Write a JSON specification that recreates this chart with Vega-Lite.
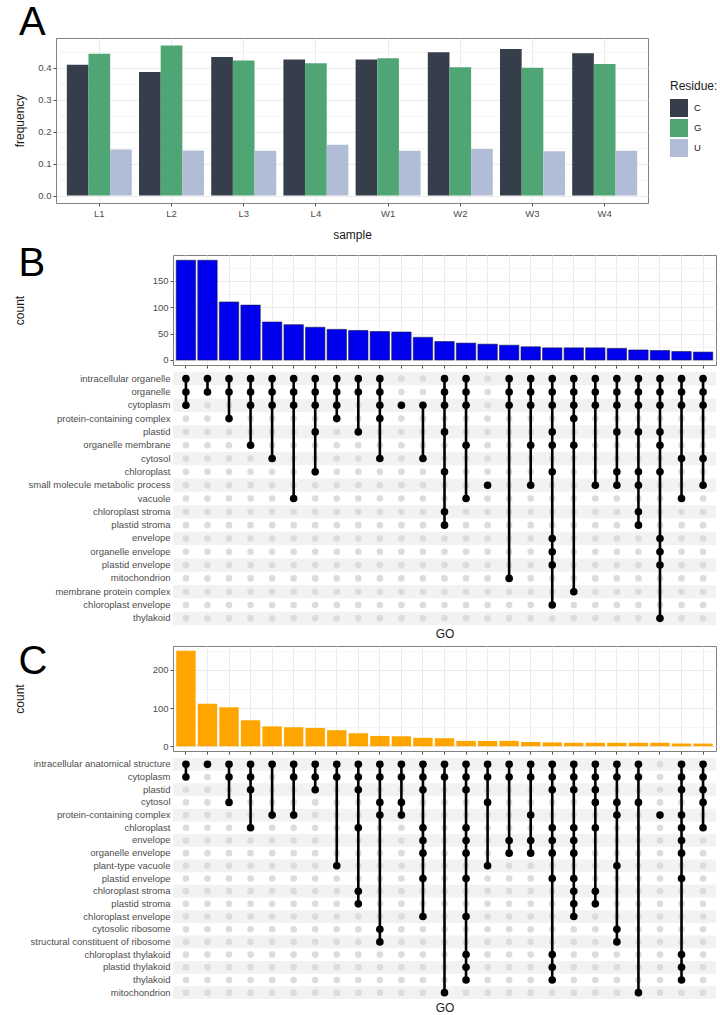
{
  "$schema": "https://vega.github.io/schema/vega-lite/v6.json",
  "padding": {"left": 12, "top": 2, "right": 2, "bottom": 0},
  "background": "white",
  "config": {
    "font": "Liberation Sans",
    "view": {"stroke": "#808080", "strokeWidth": 1},
    "axis": {"labelFontSize": 9.5, "labelColor": "#4D4D4D", "titleFontSize": 12, "titleFontWeight": "normal", "titleColor": "#1a1a1a", "tickColor": "#4D4D4D", "tickSize": 3, "domain": false, "gridColor": "#EBEBEB", "labelPadding": 2},
    "title": {"fontWeight": "normal", "fontSize": 40, "anchor": "start", "color": "#000000"}
  },
  "datasets": {
    "A": [
      {"sample": "L1", "Residue": "C", "frequency": 0.410}, {"sample": "L1", "Residue": "G", "frequency": 0.444}, {"sample": "L1", "Residue": "U", "frequency": 0.144},
      {"sample": "L2", "Residue": "C", "frequency": 0.387}, {"sample": "L2", "Residue": "G", "frequency": 0.470}, {"sample": "L2", "Residue": "U", "frequency": 0.141},
      {"sample": "L3", "Residue": "C", "frequency": 0.434}, {"sample": "L3", "Residue": "G", "frequency": 0.423}, {"sample": "L3", "Residue": "U", "frequency": 0.140},
      {"sample": "L4", "Residue": "C", "frequency": 0.426}, {"sample": "L4", "Residue": "G", "frequency": 0.414}, {"sample": "L4", "Residue": "U", "frequency": 0.159},
      {"sample": "W1", "Residue": "C", "frequency": 0.426}, {"sample": "W1", "Residue": "G", "frequency": 0.430}, {"sample": "W1", "Residue": "U", "frequency": 0.140},
      {"sample": "W2", "Residue": "C", "frequency": 0.449}, {"sample": "W2", "Residue": "G", "frequency": 0.402}, {"sample": "W2", "Residue": "U", "frequency": 0.146},
      {"sample": "W3", "Residue": "C", "frequency": 0.459}, {"sample": "W3", "Residue": "G", "frequency": 0.400}, {"sample": "W3", "Residue": "U", "frequency": 0.139},
      {"sample": "W4", "Residue": "C", "frequency": 0.446}, {"sample": "W4", "Residue": "G", "frequency": 0.412}, {"sample": "W4", "Residue": "U", "frequency": 0.140}
    ],
    "B_sets": [
      {"set": 1, "count": 189, "terms": ["intracellular organelle", "organelle", "cytoplasm"]},
      {"set": 2, "count": 189, "terms": ["intracellular organelle", "organelle"]},
      {"set": 3, "count": 110, "terms": ["intracellular organelle", "organelle", "protein-containing complex"]},
      {"set": 4, "count": 104, "terms": ["intracellular organelle", "organelle", "cytoplasm", "organelle membrane"]},
      {"set": 5, "count": 72, "terms": ["intracellular organelle", "organelle", "cytoplasm", "cytosol"]},
      {"set": 6, "count": 67, "terms": ["intracellular organelle", "organelle", "cytoplasm", "vacuole"]},
      {"set": 7, "count": 62, "terms": ["intracellular organelle", "organelle", "cytoplasm", "plastid", "chloroplast"]},
      {"set": 8, "count": 58, "terms": ["intracellular organelle", "organelle", "cytoplasm", "protein-containing complex"]},
      {"set": 9, "count": 56, "terms": ["intracellular organelle", "organelle", "plastid"]},
      {"set": 10, "count": 54, "terms": ["intracellular organelle", "organelle", "cytoplasm", "protein-containing complex", "cytosol"]},
      {"set": 11, "count": 53, "terms": ["cytoplasm"]},
      {"set": 12, "count": 43, "terms": ["cytoplasm", "cytosol"]},
      {"set": 13, "count": 35, "terms": ["intracellular organelle", "organelle", "cytoplasm", "plastid", "chloroplast", "chloroplast stroma", "plastid stroma"]},
      {"set": 14, "count": 32, "terms": ["intracellular organelle", "organelle", "cytoplasm", "organelle membrane", "vacuole"]},
      {"set": 15, "count": 30, "terms": ["small molecule metabolic process"]},
      {"set": 16, "count": 28, "terms": ["intracellular organelle", "organelle", "cytoplasm", "mitochondrion"]},
      {"set": 17, "count": 25, "terms": ["intracellular organelle", "organelle", "cytoplasm", "organelle membrane", "small molecule metabolic process"]},
      {"set": 18, "count": 23, "terms": ["intracellular organelle", "organelle", "cytoplasm", "plastid", "organelle membrane", "chloroplast", "envelope", "organelle envelope", "plastid envelope", "chloroplast envelope"]},
      {"set": 19, "count": 23, "terms": ["intracellular organelle", "organelle", "cytoplasm", "protein-containing complex", "organelle membrane", "membrane protein complex"]},
      {"set": 20, "count": 23, "terms": ["intracellular organelle", "organelle", "cytoplasm", "small molecule metabolic process"]},
      {"set": 21, "count": 22, "terms": ["intracellular organelle", "organelle", "cytoplasm", "plastid", "chloroplast", "small molecule metabolic process"]},
      {"set": 22, "count": 19, "terms": ["intracellular organelle", "organelle", "cytoplasm", "plastid", "chloroplast", "small molecule metabolic process", "chloroplast stroma", "plastid stroma"]},
      {"set": 23, "count": 18, "terms": ["intracellular organelle", "organelle", "cytoplasm", "plastid", "organelle membrane", "chloroplast", "envelope", "organelle envelope", "plastid envelope", "thylakoid"]},
      {"set": 24, "count": 16, "terms": ["intracellular organelle", "organelle", "cytoplasm", "cytosol", "vacuole"]},
      {"set": 25, "count": 15, "terms": ["intracellular organelle", "organelle", "cytoplasm", "cytosol", "small molecule metabolic process"]}
    ],
    "B_terms": [
      {"term": "intracellular organelle", "sets": [1,2,3,4,5,6,7,8,9,10,11,12,13,14,15,16,17,18,19,20,21,22,23,24,25]},
      {"term": "organelle", "sets": [1,2,3,4,5,6,7,8,9,10,11,12,13,14,15,16,17,18,19,20,21,22,23,24,25]},
      {"term": "cytoplasm", "sets": [1,2,3,4,5,6,7,8,9,10,11,12,13,14,15,16,17,18,19,20,21,22,23,24,25]},
      {"term": "protein-containing complex", "sets": [1,2,3,4,5,6,7,8,9,10,11,12,13,14,15,16,17,18,19,20,21,22,23,24,25]},
      {"term": "plastid", "sets": [1,2,3,4,5,6,7,8,9,10,11,12,13,14,15,16,17,18,19,20,21,22,23,24,25]},
      {"term": "organelle membrane", "sets": [1,2,3,4,5,6,7,8,9,10,11,12,13,14,15,16,17,18,19,20,21,22,23,24,25]},
      {"term": "cytosol", "sets": [1,2,3,4,5,6,7,8,9,10,11,12,13,14,15,16,17,18,19,20,21,22,23,24,25]},
      {"term": "chloroplast", "sets": [1,2,3,4,5,6,7,8,9,10,11,12,13,14,15,16,17,18,19,20,21,22,23,24,25]},
      {"term": "small molecule metabolic process", "sets": [1,2,3,4,5,6,7,8,9,10,11,12,13,14,15,16,17,18,19,20,21,22,23,24,25]},
      {"term": "vacuole", "sets": [1,2,3,4,5,6,7,8,9,10,11,12,13,14,15,16,17,18,19,20,21,22,23,24,25]},
      {"term": "chloroplast stroma", "sets": [1,2,3,4,5,6,7,8,9,10,11,12,13,14,15,16,17,18,19,20,21,22,23,24,25]},
      {"term": "plastid stroma", "sets": [1,2,3,4,5,6,7,8,9,10,11,12,13,14,15,16,17,18,19,20,21,22,23,24,25]},
      {"term": "envelope", "sets": [1,2,3,4,5,6,7,8,9,10,11,12,13,14,15,16,17,18,19,20,21,22,23,24,25]},
      {"term": "organelle envelope", "sets": [1,2,3,4,5,6,7,8,9,10,11,12,13,14,15,16,17,18,19,20,21,22,23,24,25]},
      {"term": "plastid envelope", "sets": [1,2,3,4,5,6,7,8,9,10,11,12,13,14,15,16,17,18,19,20,21,22,23,24,25]},
      {"term": "mitochondrion", "sets": [1,2,3,4,5,6,7,8,9,10,11,12,13,14,15,16,17,18,19,20,21,22,23,24,25]},
      {"term": "membrane protein complex", "sets": [1,2,3,4,5,6,7,8,9,10,11,12,13,14,15,16,17,18,19,20,21,22,23,24,25]},
      {"term": "chloroplast envelope", "sets": [1,2,3,4,5,6,7,8,9,10,11,12,13,14,15,16,17,18,19,20,21,22,23,24,25]},
      {"term": "thylakoid", "sets": [1,2,3,4,5,6,7,8,9,10,11,12,13,14,15,16,17,18,19,20,21,22,23,24,25]}
    ],
    "C_sets": [
      {"set": 1, "count": 250, "terms": ["intracellular anatomical structure", "cytoplasm"]},
      {"set": 2, "count": 111, "terms": ["intracellular anatomical structure"]},
      {"set": 3, "count": 102, "terms": ["intracellular anatomical structure", "cytoplasm", "cytosol"]},
      {"set": 4, "count": 68, "terms": ["intracellular anatomical structure", "cytoplasm", "plastid", "chloroplast"]},
      {"set": 5, "count": 52, "terms": ["intracellular anatomical structure", "protein-containing complex"]},
      {"set": 6, "count": 50, "terms": ["intracellular anatomical structure", "cytoplasm", "protein-containing complex"]},
      {"set": 7, "count": 48, "terms": ["intracellular anatomical structure", "cytoplasm", "plastid"]},
      {"set": 8, "count": 42, "terms": ["intracellular anatomical structure", "cytoplasm", "plant-type vacuole"]},
      {"set": 9, "count": 34, "terms": ["intracellular anatomical structure", "cytoplasm", "plastid", "chloroplast", "chloroplast stroma", "plastid stroma"]},
      {"set": 10, "count": 27, "terms": ["intracellular anatomical structure", "cytoplasm", "cytosol", "protein-containing complex", "cytosolic ribosome", "structural constituent of ribosome"]},
      {"set": 11, "count": 26, "terms": ["intracellular anatomical structure", "cytoplasm", "cytosol", "protein-containing complex"]},
      {"set": 12, "count": 22, "terms": ["intracellular anatomical structure", "cytoplasm", "plastid", "chloroplast", "envelope", "organelle envelope", "plastid envelope", "chloroplast envelope"]},
      {"set": 13, "count": 21, "terms": ["intracellular anatomical structure", "cytoplasm", "mitochondrion"]},
      {"set": 14, "count": 14, "terms": ["intracellular anatomical structure", "cytoplasm", "plastid", "chloroplast", "envelope", "organelle envelope", "plastid envelope", "chloroplast envelope", "chloroplast thylakoid", "plastid thylakoid", "thylakoid"]},
      {"set": 15, "count": 14, "terms": ["intracellular anatomical structure", "cytoplasm", "cytosol", "plant-type vacuole"]},
      {"set": 16, "count": 14, "terms": ["intracellular anatomical structure", "cytoplasm", "envelope", "organelle envelope"]},
      {"set": 17, "count": 11, "terms": ["intracellular anatomical structure", "cytoplasm", "protein-containing complex", "envelope", "organelle envelope"]},
      {"set": 18, "count": 10, "terms": ["intracellular anatomical structure", "cytoplasm", "plastid", "chloroplast", "envelope", "organelle envelope", "plastid envelope", "chloroplast thylakoid", "plastid thylakoid", "thylakoid"]},
      {"set": 19, "count": 9, "terms": ["intracellular anatomical structure", "cytoplasm", "plastid", "chloroplast", "envelope", "organelle envelope", "plastid envelope", "chloroplast stroma", "plastid stroma", "chloroplast envelope"]},
      {"set": 20, "count": 9, "terms": ["intracellular anatomical structure", "cytoplasm", "plastid", "cytosol", "chloroplast", "chloroplast stroma", "plastid stroma"]},
      {"set": 21, "count": 9, "terms": ["intracellular anatomical structure", "cytoplasm", "cytosol", "protein-containing complex", "plant-type vacuole", "cytosolic ribosome", "structural constituent of ribosome"]},
      {"set": 22, "count": 9, "terms": ["intracellular anatomical structure", "cytoplasm", "cytosol", "mitochondrion"]},
      {"set": 23, "count": 9, "terms": ["protein-containing complex"]},
      {"set": 24, "count": 7, "terms": ["intracellular anatomical structure", "cytoplasm", "plastid", "protein-containing complex", "chloroplast", "envelope", "organelle envelope", "plastid envelope", "chloroplast thylakoid", "plastid thylakoid", "thylakoid"]},
      {"set": 25, "count": 7, "terms": ["intracellular anatomical structure", "cytoplasm", "plastid", "cytosol", "chloroplast"]}
    ],
    "C_terms": [
      {"term": "intracellular anatomical structure", "sets": [1,2,3,4,5,6,7,8,9,10,11,12,13,14,15,16,17,18,19,20,21,22,23,24,25]},
      {"term": "cytoplasm", "sets": [1,2,3,4,5,6,7,8,9,10,11,12,13,14,15,16,17,18,19,20,21,22,23,24,25]},
      {"term": "plastid", "sets": [1,2,3,4,5,6,7,8,9,10,11,12,13,14,15,16,17,18,19,20,21,22,23,24,25]},
      {"term": "cytosol", "sets": [1,2,3,4,5,6,7,8,9,10,11,12,13,14,15,16,17,18,19,20,21,22,23,24,25]},
      {"term": "protein-containing complex", "sets": [1,2,3,4,5,6,7,8,9,10,11,12,13,14,15,16,17,18,19,20,21,22,23,24,25]},
      {"term": "chloroplast", "sets": [1,2,3,4,5,6,7,8,9,10,11,12,13,14,15,16,17,18,19,20,21,22,23,24,25]},
      {"term": "envelope", "sets": [1,2,3,4,5,6,7,8,9,10,11,12,13,14,15,16,17,18,19,20,21,22,23,24,25]},
      {"term": "organelle envelope", "sets": [1,2,3,4,5,6,7,8,9,10,11,12,13,14,15,16,17,18,19,20,21,22,23,24,25]},
      {"term": "plant-type vacuole", "sets": [1,2,3,4,5,6,7,8,9,10,11,12,13,14,15,16,17,18,19,20,21,22,23,24,25]},
      {"term": "plastid envelope", "sets": [1,2,3,4,5,6,7,8,9,10,11,12,13,14,15,16,17,18,19,20,21,22,23,24,25]},
      {"term": "chloroplast stroma", "sets": [1,2,3,4,5,6,7,8,9,10,11,12,13,14,15,16,17,18,19,20,21,22,23,24,25]},
      {"term": "plastid stroma", "sets": [1,2,3,4,5,6,7,8,9,10,11,12,13,14,15,16,17,18,19,20,21,22,23,24,25]},
      {"term": "chloroplast envelope", "sets": [1,2,3,4,5,6,7,8,9,10,11,12,13,14,15,16,17,18,19,20,21,22,23,24,25]},
      {"term": "cytosolic ribosome", "sets": [1,2,3,4,5,6,7,8,9,10,11,12,13,14,15,16,17,18,19,20,21,22,23,24,25]},
      {"term": "structural constituent of ribosome", "sets": [1,2,3,4,5,6,7,8,9,10,11,12,13,14,15,16,17,18,19,20,21,22,23,24,25]},
      {"term": "chloroplast thylakoid", "sets": [1,2,3,4,5,6,7,8,9,10,11,12,13,14,15,16,17,18,19,20,21,22,23,24,25]},
      {"term": "plastid thylakoid", "sets": [1,2,3,4,5,6,7,8,9,10,11,12,13,14,15,16,17,18,19,20,21,22,23,24,25]},
      {"term": "thylakoid", "sets": [1,2,3,4,5,6,7,8,9,10,11,12,13,14,15,16,17,18,19,20,21,22,23,24,25]},
      {"term": "mitochondrion", "sets": [1,2,3,4,5,6,7,8,9,10,11,12,13,14,15,16,17,18,19,20,21,22,23,24,25]}
    ]
  },
  "spacing": 2,
  "vconcat": [
    {
      "title": {"text": "A", "frame": "bounds", "dx": 6, "offset": -5},
      "width": 592,
      "height": 165,
      "data": {"name": "A"},
      "mark": {"type": "bar"},
      "encoding": {
        "x": {"field": "sample", "type": "nominal", "scale": {"paddingInner": 0.1, "paddingOuter": 0.15},
              "axis": {"title": "sample", "labelAngle": 0, "grid": true, "bandPosition": 0.5, "titlePadding": 12}},
        "xOffset": {"field": "Residue", "type": "nominal"},
        "y": {"field": "frequency", "type": "quantitative", "scale": {"domain": [-0.0235, 0.4935], "nice": false},
              "axis": {"title": "frequency", "titleX": -30,
                       "values": [0, 0.05, 0.1, 0.15, 0.2, 0.25, 0.3, 0.35, 0.4, 0.45],
                       "labelExpr": "abs(datum.value*10 - round(datum.value*10)) < 0.01 ? format(datum.value, '.1f') : ''",
                       "tickOpacity": {"condition": {"test": "abs(datum.value*10 - round(datum.value*10)) < 0.01", "value": 1}, "value": 0},
                       "gridWidth": {"condition": {"test": "abs(datum.value*10 - round(datum.value*10)) < 0.01", "value": 1}, "value": 0.5}}},
        "color": {"field": "Residue", "type": "nominal",
                  "scale": {"domain": ["C", "G", "U"], "range": ["#363D4B", "#4FA573", "#B1BDD7"]},
                  "legend": {"title": "Residue:", "orient": "none", "legendX": 614, "legendY": 43, "symbolType": "square", "symbolSize": 324, "symbolStrokeWidth": 0, "symbolOpacity": 1, "titleFontSize": 12, "titleFontWeight": "normal", "titleColor": "#1a1a1a", "labelFontSize": 9.5, "labelColor": "#1a1a1a", "rowPadding": 2, "titlePadding": 6, "labelOffset": 6}}
      }
    },
    {
      "title": {"text": "B", "frame": "bounds", "dx": 6, "offset": -29},
      "bounds": "flush",
      "spacing": 0,
      "hconcat": [
        {"width": 117, "height": 1, "data": {"values": []}, "mark": "rect", "encoding": {}, "view": {"stroke": null}},
        {
          "bounds": "full",
          "spacing": 3,
          "resolve": {"scale": {"x": "independent", "y": "independent"}},
          "vconcat": [
            {
              "width": 543,
              "height": 110,
              "data": {"name": "B_sets"},
              "mark": {"type": "bar", "color": "#0000EE", "stroke": "#1a1a50", "strokeWidth": 0.6},
              "encoding": {
                "x": {"field": "set", "type": "ordinal", "scale": {"domain": [1,2,3,4,5,6,7,8,9,10,11,12,13,14,15,16,17,18,19,20,21,22,23,24,25], "paddingInner": 0.1, "paddingOuter": 0.15},
                      "axis": {"title": null, "labels": false, "grid": true, "bandPosition": 0.5}},
                "y": {"field": "count", "type": "quantitative", "scale": {"domain": [-9.5, 199], "nice": false},
                      "axis": {"title": "count", "titleX": -147, "values": [0, 25, 50, 75, 100, 125, 150, 175],
                               "labelExpr": "datum.value % 50 == 0 ? datum.label : ''",
                               "tickOpacity": {"condition": {"test": "datum.value % 50 == 0", "value": 1}, "value": 0},
                               "gridWidth": {"condition": {"test": "datum.value % 50 == 0", "value": 1}, "value": 0.5}}}
              }
            },
            {
              "width": 543,
              "height": 253,
              "view": {"stroke": null},
              "encoding": {
                "y": {"field": "term", "type": "nominal",
                      "scale": {"type": "band", "paddingInner": 0, "paddingOuter": 0, "domain": ["intracellular organelle", "organelle", "cytoplasm", "protein-containing complex", "plastid", "organelle membrane", "cytosol", "chloroplast", "small molecule metabolic process", "vacuole", "chloroplast stroma", "plastid stroma", "envelope", "organelle envelope", "plastid envelope", "mitochondrion", "membrane protein complex", "chloroplast envelope", "thylakoid"]},
                      "axis": {"title": null, "ticks": false, "grid": false, "labelPadding": 3, "labelColor": "#4D4D4D"}}
              },
              "layer": [
                {
                  "data": {"name": "B_terms"},
                  "transform": [{"window": [{"op": "row_number", "as": "i"}]}, {"filter": "datum.i % 2 == 1"}],
                  "mark": {"type": "rect", "color": "#F2F2F2"}
                },
                {
                  "data": {"name": "B_terms"},
                  "transform": [{"flatten": ["sets"], "as": ["set"]}],
                  "mark": {"type": "circle", "color": "#DCDCDC", "size": 44, "opacity": 1},
                  "encoding": {
                    "x": {"field": "set", "type": "ordinal", "scale": {"type": "point", "padding": 0.6, "domain": [1,2,3,4,5,6,7,8,9,10,11,12,13,14,15,16,17,18,19,20,21,22,23,24,25]},
                          "axis": {"title": "GO", "labels": false, "ticks": false, "grid": false, "titlePadding": 3}}
                  }
                },
                {
                  "data": {"name": "B_sets"},
                  "transform": [{"flatten": ["terms"], "as": ["term"]}],
                  "mark": {"type": "line", "color": "#000000", "strokeWidth": 2.6},
                  "encoding": {
                    "x": {"field": "set", "type": "ordinal"},
                    "detail": {"field": "set", "type": "ordinal"}
                  }
                },
                {
                  "data": {"name": "B_sets"},
                  "transform": [{"flatten": ["terms"], "as": ["term"]}],
                  "mark": {"type": "circle", "color": "#000000", "size": 58, "opacity": 1},
                  "encoding": {
                    "x": {"field": "set", "type": "ordinal"}
                  }
                }
              ]
            }
          ]
        }
      ]
    },
    {
      "title": {"text": "C", "frame": "bounds", "dx": 6, "offset": -36},
      "bounds": "flush",
      "spacing": 0,
      "hconcat": [
        {"width": 117, "height": 1, "data": {"values": []}, "mark": "rect", "encoding": {}, "view": {"stroke": null}},
        {
          "bounds": "full",
          "spacing": 3,
          "resolve": {"scale": {"x": "independent", "y": "independent"}},
          "vconcat": [
            {
              "width": 543,
              "height": 105,
              "data": {"name": "C_sets"},
              "mark": {"type": "bar", "color": "#FFA500"},
              "encoding": {
                "x": {"field": "set", "type": "ordinal", "scale": {"domain": [1,2,3,4,5,6,7,8,9,10,11,12,13,14,15,16,17,18,19,20,21,22,23,24,25], "paddingInner": 0.1, "paddingOuter": 0.15},
                      "axis": {"title": null, "labels": false, "grid": true, "bandPosition": 0.5}},
                "y": {"field": "count", "type": "quantitative", "scale": {"domain": [-12.5, 262.5], "nice": false},
                      "axis": {"title": "count", "titleX": -147, "values": [0, 50, 100, 150, 200, 250],
                               "labelExpr": "datum.value % 100 == 0 ? datum.label : ''",
                               "tickOpacity": {"condition": {"test": "datum.value % 100 == 0", "value": 1}, "value": 0},
                               "gridWidth": {"condition": {"test": "datum.value % 100 == 0", "value": 1}, "value": 0.5}}}
              }
            },
            {
              "width": 543,
              "height": 241,
              "view": {"stroke": null},
              "encoding": {
                "y": {"field": "term", "type": "nominal",
                      "scale": {"type": "band", "paddingInner": 0, "paddingOuter": 0, "domain": ["intracellular anatomical structure", "cytoplasm", "plastid", "cytosol", "protein-containing complex", "chloroplast", "envelope", "organelle envelope", "plant-type vacuole", "plastid envelope", "chloroplast stroma", "plastid stroma", "chloroplast envelope", "cytosolic ribosome", "structural constituent of ribosome", "chloroplast thylakoid", "plastid thylakoid", "thylakoid", "mitochondrion"]},
                      "axis": {"title": null, "ticks": false, "grid": false, "labelPadding": 3, "labelColor": "#4D4D4D"}}
              },
              "layer": [
                {
                  "data": {"name": "C_terms"},
                  "transform": [{"window": [{"op": "row_number", "as": "i"}]}, {"filter": "datum.i % 2 == 1"}],
                  "mark": {"type": "rect", "color": "#F2F2F2"}
                },
                {
                  "data": {"name": "C_terms"},
                  "transform": [{"flatten": ["sets"], "as": ["set"]}],
                  "mark": {"type": "circle", "color": "#DCDCDC", "size": 44, "opacity": 1},
                  "encoding": {
                    "x": {"field": "set", "type": "ordinal", "scale": {"type": "point", "padding": 0.6, "domain": [1,2,3,4,5,6,7,8,9,10,11,12,13,14,15,16,17,18,19,20,21,22,23,24,25]},
                          "axis": {"title": "GO", "labels": false, "ticks": false, "grid": false, "titlePadding": 3}}
                  }
                },
                {
                  "data": {"name": "C_sets"},
                  "transform": [{"flatten": ["terms"], "as": ["term"]}],
                  "mark": {"type": "line", "color": "#000000", "strokeWidth": 2.6},
                  "encoding": {
                    "x": {"field": "set", "type": "ordinal"},
                    "detail": {"field": "set", "type": "ordinal"}
                  }
                },
                {
                  "data": {"name": "C_sets"},
                  "transform": [{"flatten": ["terms"], "as": ["term"]}],
                  "mark": {"type": "circle", "color": "#000000", "size": 58, "opacity": 1},
                  "encoding": {
                    "x": {"field": "set", "type": "ordinal"}
                  }
                }
              ]
            }
          ]
        }
      ]
    }
  ]
}
